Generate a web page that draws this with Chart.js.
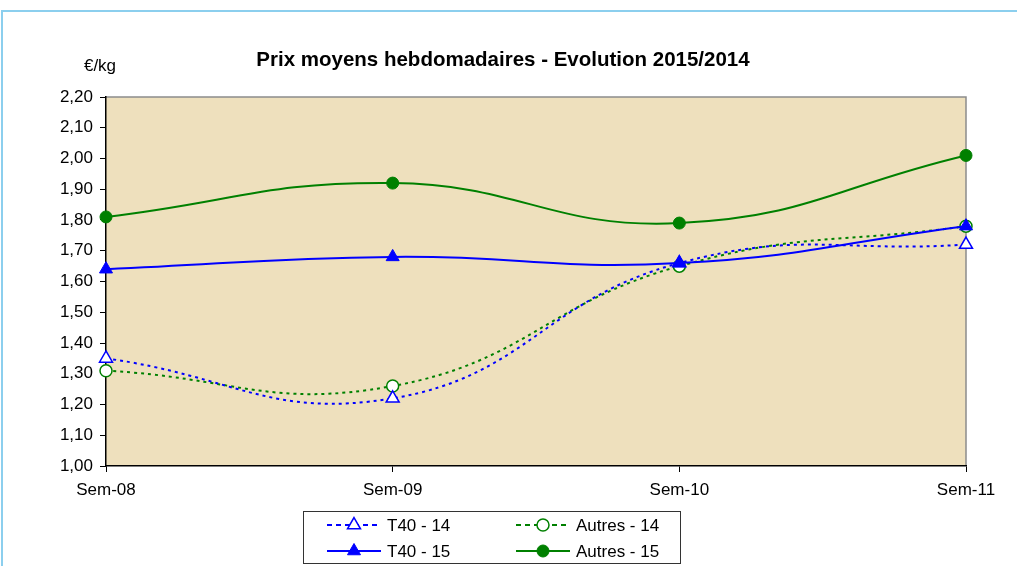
<!DOCTYPE html>
<html>
<head>
<meta charset="utf-8">
<script src="https://cdn.jsdelivr.net/npm/chart.js@4.4.1/dist/chart.umd.min.js"></script>
<style>
  html, body { margin: 0; padding: 0; background: #fff; }
  #wrap { width: 1017px; height: 566px; }
</style>
</head>
<body>
<div id="wrap"><canvas id="chart" width="1017" height="566"></canvas></div>
<script>
// Weeks on the x axis
const weeks = ['Sem-08', 'Sem-09', 'Sem-10', 'Sem-11'];

// Average weekly prices (€/kg)
const t40_14 = [1.35, 1.22, 1.66, 1.72];
const autres_14 = [1.31, 1.26, 1.65, 1.78];
const t40_15 = [1.64, 1.68, 1.66, 1.78];
const autres_15 = [1.81, 1.92, 1.79, 2.01];

// Y axis range
const yMin = 1.0;
const yMax = 2.2;
const yStep = 0.1;

const FONT = "'Liberation Sans', Arial, sans-serif";
const BLUE = '#0000ff';
const GREEN = '#008000';

// Background, frame, title, unit and legend drawn around the chart area
const decorPlugin = {
    id: 'decor',
    beforeDraw(chart) {
        const { ctx, chartArea: a } = chart;
        ctx.save();
        ctx.fillStyle = '#ffffff';
        ctx.fillRect(0, 0, chart.width, chart.height);

        // outer light blue frame
        ctx.strokeStyle = '#8ccfee';
        ctx.lineWidth = 2;
        ctx.beginPath();
        ctx.moveTo(2, chart.height + 2);
        ctx.lineTo(2, 11);
        ctx.lineTo(chart.width + 2, 11);
        ctx.stroke();

        // plot area fill
        ctx.fillStyle = '#eee0bd';
        ctx.fillRect(a.left, a.top, a.right - a.left, a.bottom - a.top);
        ctx.strokeStyle = '#8c8c8c';
        ctx.lineWidth = 1.5;
        ctx.beginPath();
        ctx.moveTo(a.left, a.top);
        ctx.lineTo(a.right, a.top);
        ctx.lineTo(a.right, a.bottom);
        ctx.stroke();
        ctx.restore();
    },
    afterDraw(chart) {
        const { ctx } = chart;
        ctx.save();
        ctx.fillStyle = '#000';
        ctx.textBaseline = 'middle';

        // title
        ctx.font = 'bold 20.5px ' + FONT;
        ctx.textAlign = 'center';
        ctx.fillText('Prix moyens hebdomadaires - Evolution 2015/2014', 503, 60);

        // unit
        ctx.font = '17px ' + FONT;
        ctx.fillText('€/kg', 100, 66);

        // legend box
        ctx.strokeStyle = '#333';
        ctx.lineWidth = 1;
        ctx.strokeRect(303.5, 511.5, 377, 52);

        const items = [
            { ds: 0, x: 327, y: 525 },
            { ds: 1, x: 516, y: 525 },
            { ds: 2, x: 327, y: 551 },
            { ds: 3, x: 516, y: 551 }
        ];
        items.forEach(it => {
            const d = chart.data.datasets[it.ds];
            ctx.save();
            ctx.strokeStyle = d.borderColor;
            ctx.lineWidth = d.borderWidth;
            ctx.setLineDash(d.borderDash ? [5, 4] : []);
            ctx.beginPath();
            ctx.moveTo(it.x, it.y);
            ctx.lineTo(it.x + 54, it.y);
            ctx.stroke();
            ctx.setLineDash([]);
            ctx.fillStyle = d.pointBackgroundColor;
            ctx.strokeStyle = d.pointBorderColor;
            ctx.lineWidth = d.pointBorderWidth;
            Chart.helpers.drawPoint(ctx, {
                pointStyle: d.pointStyle,
                radius: d.pointRadius,
                rotation: 0,
                borderWidth: d.pointBorderWidth
            }, it.x + 27, it.y);
            ctx.restore();

            ctx.fillStyle = '#000';
            ctx.font = '17px ' + FONT;
            ctx.textAlign = 'left';
            ctx.fillText(d.label, it.x + 60, it.y + 1);
        });
        ctx.restore();
    }
};

const ctx = document.getElementById('chart').getContext('2d');
new Chart(ctx, {
    type: 'line',
    data: {
        labels: weeks,
        datasets: [
            {
                label: 'T40 - 14',
                data: t40_14,
                borderColor: BLUE,
                borderWidth: 2,
                borderDash: [3, 4],
                pointStyle: 'triangle',
                pointRadius: 7.5,
                pointBackgroundColor: '#ffffff',
                pointBorderColor: BLUE,
                pointBorderWidth: 1.5,
                order: 2
            },
            {
                label: 'Autres - 14',
                data: autres_14,
                borderColor: GREEN,
                borderWidth: 2,
                borderDash: [3, 4],
                pointStyle: 'circle',
                pointRadius: 6,
                pointBackgroundColor: '#ffffff',
                pointBorderColor: GREEN,
                pointBorderWidth: 1.5,
                order: 3
            },
            {
                label: 'T40 - 15',
                data: t40_15,
                borderColor: BLUE,
                borderWidth: 2,
                pointStyle: 'triangle',
                pointRadius: 7.5,
                pointBackgroundColor: BLUE,
                pointBorderColor: BLUE,
                pointBorderWidth: 1,
                order: 0
            },
            {
                label: 'Autres - 15',
                data: autres_15,
                borderColor: GREEN,
                borderWidth: 2,
                pointStyle: 'circle',
                pointRadius: 6,
                pointBackgroundColor: GREEN,
                pointBorderColor: GREEN,
                pointBorderWidth: 1,
                order: 1
            }
        ]
    },
    options: {
        responsive: false,
        animation: false,
        events: [],
        devicePixelRatio: 1,
        clip: false,
        elements: {
            line: { tension: 0.45, fill: false }
        },
        layout: {
            padding: { left: 0, right: 51, top: 97, bottom: 60 }
        },
        scales: {
            x: {
                offset: false,
                grid: {
                    drawOnChartArea: false,
                    drawTicks: true,
                    tickLength: 6,
                    color: '#000'
                },
                border: { color: '#000', width: 1.5 },
                ticks: {
                    color: '#000',
                    font: { family: FONT, size: 17 },
                    padding: 8,
                    maxRotation: 0,
                    autoSkip: false
                },
                afterFit(scale) { scale.height = 40; }
            },
            y: {
                min: yMin,
                max: yMax,
                grid: {
                    drawOnChartArea: false,
                    drawTicks: true,
                    tickLength: 6,
                    color: '#000'
                },
                border: { color: '#000', width: 1.5 },
                ticks: {
                    stepSize: yStep,
                    color: '#000',
                    font: { family: FONT, size: 17 },
                    padding: 7,
                    callback: v => v.toFixed(2).replace('.', ',')
                },
                afterFit(scale) { scale.width = 106; }
            }
        },
        plugins: {
            legend: { display: false },
            title: { display: false },
            tooltip: { enabled: false }
        }
    },
    plugins: [decorPlugin]
});
</script>
</body>
</html>
